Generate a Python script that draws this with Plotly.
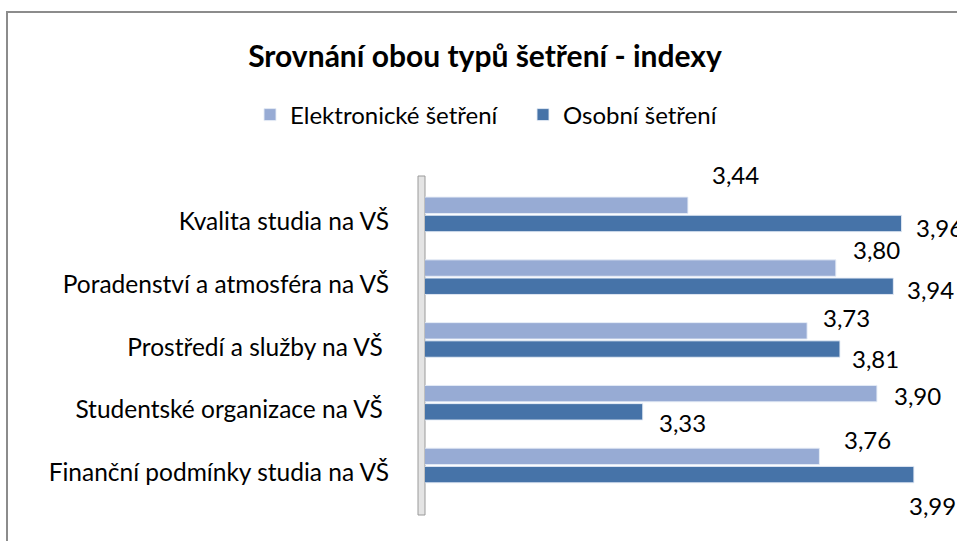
import plotly.graph_objects as go

categories = [
    "Kvalita studia na VŠ",
    "Poradenství a atmosféra na VŠ",
    "Prostředí a služby na VŠ ",
    "Studentské organizace na VŠ ",
    "Finanční podmínky studia na VŠ",
]
series_names = ["Elektronické šetření", "Osobní šetření"]
elektronicke = [3.44, 3.80, 3.73, 3.90, 3.76]
osobni = [3.96, 3.94, 3.81, 3.33, 3.99]

# label placement offsets in pixels relative to each bar's end (style only): (dx right, dy down)
label_off_e = [(22, -30), (15, -18), (14, -12), (15, 3), (23, -16)]
label_off_o = [(12, 3), (12, 2), (10, 9), (14, 10), (-7, 30)]
bar_center_off = [-10, 10]  # bar centre relative to category centre, px down

colors = ["#97ABD4", "#4673A8"]
FONT = "Lato"

fig = go.Figure()
for name, vals, col in zip(series_names, [elektronicke, osobni], colors):
    fig.add_trace(go.Bar(
        y=categories, x=vals, name=name, orientation="h",
        marker=dict(color=col, line=dict(color="rgba(230,236,246,0.9)", width=1)),
        hoverinfo="x+y",
    ))

def fmt(v):
    return f"{v:.2f}".replace(".", ",")

annotations = []
for vals, offs, boff in [(elektronicke, label_off_e, bar_center_off[0]),
                         (osobni, label_off_o, bar_center_off[1])]:
    for cat, v, (dx, dy) in zip(categories, vals, offs):
        annotations.append(dict(
            x=v, y=cat, xref="x", yref="y", text=fmt(v), showarrow=False,
            xanchor="left", yanchor="middle", xshift=dx, yshift=-(dy + boff),
            font=dict(family=FONT, size=24, color="#000000"),
        ))

W, H = 957, 541
ml, mr, mt, mb = 425, 39, 183, 33
pw = W - ml - mr
ph = H - mt - mb

def px_x(X):
    return (X - ml) / pw

def px_y(Y):
    return (H - mb - Y) / ph

shapes = [
    # chart frame
    dict(type="rect", xref="paper", yref="paper",
         x0=px_x(7), x1=px_x(1000), y0=px_y(600), y1=px_y(12),
         line=dict(color="#8C8C8C", width=2), fillcolor="rgba(0,0,0,0)", layer="below"),
    # 3D wall at left of bars
    dict(type="rect", xref="paper", yref="paper",
         x0=px_x(418), x1=px_x(425), y0=px_y(515), y1=px_y(176),
         line=dict(color="#9A9A9A", width=1), fillcolor="#E4E4E4", layer="below"),
]

fig.update_layout(
    width=W, height=H,
    margin=dict(l=ml, r=mr, t=mt, b=mb),
    paper_bgcolor="white", plot_bgcolor="white",
    barmode="group", bargap=0.42, bargroupgap=0.1,
    title=dict(text="<b>Srovnání obou typů šetření - indexy</b>",
               x=485 / W, xref="container", xanchor="center",
               y=1 - 56 / H, yref="container", yanchor="middle",
               font=dict(family=FONT, size=30, color="#000000")),
    legend=dict(orientation="h", xref="paper", x=px_x(250),
                yref="paper", y=px_y(115),
                xanchor="left", yanchor="middle",
                font=dict(family=FONT, size=24, color="#000000"),
                itemwidth=30, entrywidth=228, entrywidthmode="pixels",
                bgcolor="rgba(0,0,0,0)"),
    xaxis=dict(range=[2.8, 4.0], showticklabels=False, showgrid=False,
               zeroline=False, showline=False, fixedrange=True),
    yaxis=dict(autorange="reversed", showgrid=False, zeroline=False,
               showline=False, ticks="", ticklabelstandoff=35,
               ticklabelshift=-7,
               tickfont=dict(family=FONT, size=24.5, color="#000000")),
    annotations=annotations,
    shapes=shapes,
    font=dict(family=FONT),
)

fig.write_html("out.html", config={"displayModeBar": False},
               post_script="document.body.style.margin='0';")
